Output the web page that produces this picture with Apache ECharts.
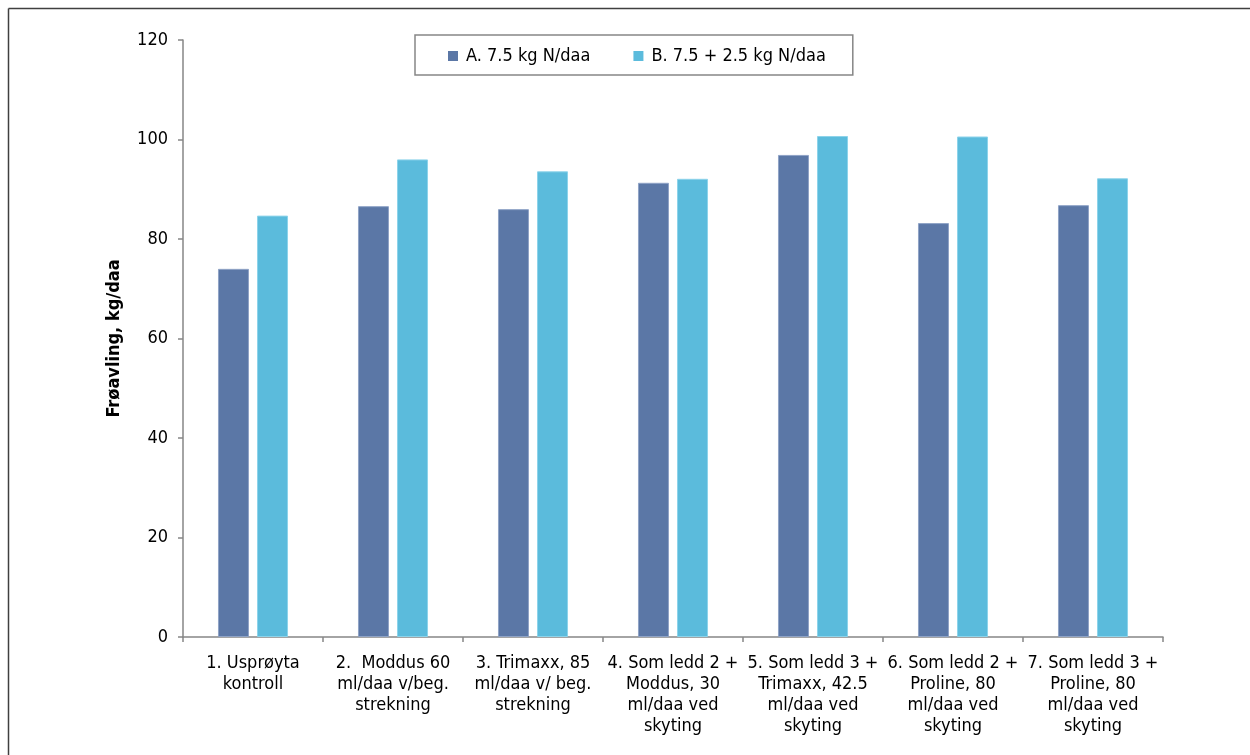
<!DOCTYPE html>
<html>
<head>
<meta charset="utf-8">
<script src="https://cdn.jsdelivr.net/npm/echarts@6/dist/echarts.min.js"></script>
<style>
  html, body { margin: 0; padding: 0; background: #fff; }
  #chart { width: 1250px; height: 755px; }
</style>
</head>
<body>
<div id="chart"></div>
<script>
// Treatments (x-axis categories)
const categories = [
  '1. Usprøyta\nkontroll',
  '2.  Moddus 60\nml/daa v/beg.\nstrekning',
  '3. Trimaxx, 85\nml/daa v/ beg.\nstrekning',
  '4. Som ledd 2 +\nModdus, 30\nml/daa ved\nskyting',
  '5. Som ledd 3 +\nTrimaxx, 42.5\nml/daa ved\nskyting',
  '6. Som ledd 2 +\nProline, 80\nml/daa ved\nskyting',
  '7. Som ledd 3 +\nProline, 80\nml/daa ved\nskyting'
];

// Seed yield, kg/daa
const seriesNames = ['A. 7.5 kg N/daa', 'B. 7.5 + 2.5 kg N/daa'];
const valuesA = [74.0, 86.6, 86.0, 91.3, 96.9, 83.2, 86.8];
const valuesB = [84.7, 96.0, 93.6, 92.1, 100.7, 100.6, 92.2];

const yTicks = { min: 0, max: 120, interval: 20 };

const FONT = '"DejaVu Sans Condensed", "DejaVu Sans", sans-serif';
const AXIS_GRAY = '#868686';

const chart = echarts.init(document.getElementById('chart'), null, { renderer: 'canvas' });

chart.setOption({
  backgroundColor: '#ffffff',
  animation: false,
  graphic: [
    // outer frame (top and left edges visible)
    { type: 'line', shape: { x1: 8.5, y1: 8.5, x2: 1250, y2: 8.5 }, style: { stroke: '#404040', lineWidth: 1.5 } },
    { type: 'line', shape: { x1: 8.5, y1: 8.5, x2: 8.5, y2: 755 }, style: { stroke: '#404040', lineWidth: 1.5 } }
  ],
  legend: {
    data: seriesNames,
    left: 415,
    top: 35,
    orient: 'horizontal',
    icon: 'rect',
    itemWidth: 10,
    itemHeight: 10,
    itemGap: 43,
    padding: [12, 27, 10, 33],
    borderColor: AXIS_GRAY,
    borderWidth: 1.5,
    backgroundColor: '#ffffff',
    itemStyle: { borderWidth: 0 },
    textStyle: { fontFamily: FONT, fontSize: 18, color: '#000000', padding: [0, 0, 0, 3] }
  },
  grid: { left: 183, right: 87, top: 40, bottom: 118, containLabel: false },
  xAxis: {
    type: 'category',
    data: categories,
    axisLine: { lineStyle: { color: AXIS_GRAY, width: 1.5 } },
    axisTick: { show: true, length: 5, lineStyle: { color: AXIS_GRAY, width: 1.5 } },
    axisLabel: {
      interval: 0,
      margin: 16,
      fontFamily: FONT,
      fontSize: 18,
      lineHeight: 21,
      color: '#000000',
      align: 'center'
    }
  },
  yAxis: {
    type: 'value',
    min: yTicks.min,
    max: yTicks.max,
    interval: yTicks.interval,
    name: 'Frøavling, kg/daa',
    nameLocation: 'middle',
    nameGap: 60,
    nameRotate: 90,
    nameTextStyle: { fontFamily: FONT, fontSize: 18, fontWeight: 'bold', color: '#000000' },
    axisLine: { show: true, lineStyle: { color: AXIS_GRAY, width: 1.5 } },
    axisTick: { show: true, inside: false, length: 5, lineStyle: { color: AXIS_GRAY, width: 1.5 } },
    axisLabel: { fontFamily: FONT, fontSize: 18, color: '#000000', margin: 15 },
    splitLine: { show: false }
  },
  series: [
    {
      name: seriesNames[0],
      type: 'bar',
      data: valuesA,
      barWidth: 31,
      barGap: '26%',
      itemStyle: { color: '#5B77A6', borderColor: '#8FA3C6', borderWidth: 1 }
    },
    {
      name: seriesNames[1],
      type: 'bar',
      data: valuesB,
      barWidth: 31,
      barGap: '26%',
      itemStyle: { color: '#5BBBDC', borderColor: '#8DD3EA', borderWidth: 1 }
    }
  ]
});
</script>
</body>
</html>
